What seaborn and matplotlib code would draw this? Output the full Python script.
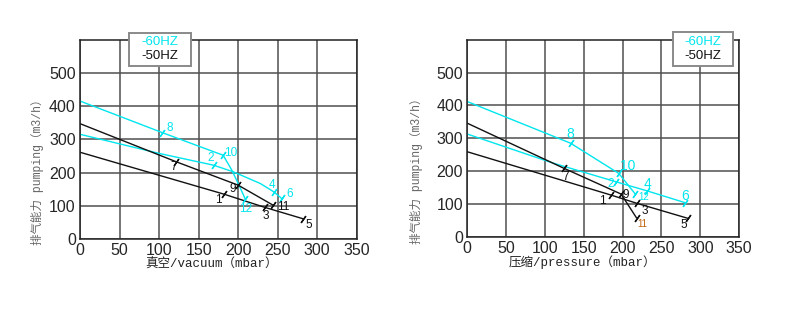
import matplotlib
matplotlib.use("Agg")
import matplotlib.pyplot as plt
from matplotlib.patches import Rectangle
import seaborn as sns
import pandas as pd

sns.set_theme(style="white")
plt.rcParams["font.family"] = ["Liberation Sans", "Noto Sans CJK SC"]

CYAN = "#00e6ee"
BLACK = "#111111"

# ---- vacuum side: curve vertices (mbar, m3/h) ----
vac_60a_x = [0, 104, 181, 192, 202, 209]
vac_60a_y = [415, 320, 252, 207, 157, 120]
vac_60b_x = [0, 101, 169, 194, 228, 245, 255]
vac_60b_y = [315, 257, 222, 202, 167, 142, 122]
vac_50a_x = [0, 122, 200, 244]
vac_50a_y = [347, 232, 162, 102]
vac_50b_x = [0, 182, 234, 282]
vac_50b_y = [261, 135, 95, 61]

# numbered operating points on the vacuum side
vac_pt_id = ["8", "10", "12", "2", "4", "6", "7", "9", "11", "1", "3", "5"]
vac_pt_x = [104, 181, 209, 169, 245, 255, 122, 200, 244, 182, 234, 282]
vac_pt_y = [320, 252, 120, 222, 142, 122, 232, 162, 102, 135, 95, 61]
vac_lab_x = [114, 191, 209, 165, 243, 265, 119, 193, 257, 175, 235, 289]
vac_lab_y = [333, 260, 90, 244, 163, 135, 217, 150, 97, 117, 70, 42]

# ---- pressure side: curve vertices (mbar, m3/h) ----
prs_60a_x = [0, 133, 195, 216]
prs_60a_y = [412, 285, 193, 131]
prs_60b_x = [0, 111, 192, 231, 280]
prs_60b_y = [313, 224, 167, 140, 104]
prs_50a_x = [0, 125, 198, 218]
prs_50a_y = [346, 208, 130, 57]
prs_50b_x = [0, 185, 218, 284]
prs_50b_y = [259, 127, 102, 56]

prs_pt_id = ["8", "10", "12", "2", "4", "6", "7", "9", "11", "1", "3", "5"]
prs_pt_x = [133, 195, 216, 192, 231, 280, 125, 198, 218, 185, 218, 284]
prs_pt_y = [285, 193, 131, 167, 140, 104, 208, 130, 57, 127, 102, 56]
prs_lab_x = [133, 207, 227, 185, 232, 280, 127, 204, 225, 174, 228, 279]
prs_lab_y = [312, 214, 122, 160, 161, 125, 183, 128, 39, 110, 77, 36]

x_ticks = [0, 50, 100, 150, 200, 250, 300, 350]
y_ticks = [0, 100, 200, 300, 400, 500]
legend_labels = ["-60HZ", "-50HZ"]
legend_colors = [CYAN, BLACK]

LABEL_FONT = ["Liberation Mono", "Noto Sans CJK SC"]


def point_color(pid):
    return CYAN if int(pid) % 2 == 0 else BLACK


def draw_panel(ax, curves, pt_id, pt_x, pt_y, lab_x, lab_y, xlabel,
               label_x, ylabel_x, legend_box, big_ids=(), small_ids=(),
               special=None):
    for xs, ys, col in curves:
        df = pd.DataFrame({"x": xs, "y": ys})
        sns.lineplot(data=df, x="x", y="y", ax=ax, color=col, lw=1.0,
                     sort=False, estimator=None)
    for pid, px, py, lx, ly in zip(pt_id, pt_x, pt_y, lab_x, lab_y):
        col = point_color(pid)
        ax.plot([px], [py], marker=(2, 2, -35), ms=6, mew=1.0, color=col,
                ls="none")
        size = 8.5
        if pid in big_ids:
            size = 10
        if pid in small_ids:
            size = 7
        tcol = col
        if special and pid in special:
            tcol = special[pid]
        ax.text(lx, ly, pid, color=tcol, fontsize=size, ha="center",
                va="center")

    ax.set_xlim(0, 350)
    ax.set_ylim(0, 600)
    ax.set_xticks(x_ticks)
    ax.set_yticks(y_ticks)
    ax.set_xticklabels([str(v) for v in x_ticks], fontsize=11.5)
    ax.set_yticklabels([str(v) for v in y_ticks], fontsize=11.5)
    ax.tick_params(length=0, pad=3)
    ax.grid(True, color="#505050", lw=1.1)
    for sp in ax.spines.values():
        sp.set_visible(True)
        sp.set_color("#222222")
        sp.set_linewidth(1.1)
    ax.set_xlabel("")
    ax.set_ylabel("")

    ax.text(label_x, -0.13, xlabel, transform=ax.transAxes, ha="center",
            va="center", fontsize=9, color="#222222", family=LABEL_FONT)
    ax.text(ylabel_x, 0.35, "排气能力 pumping（m3/h）", transform=ax.transAxes,
            rotation=90, ha="center", va="center", fontsize=8.3,
            color="#666666", family=LABEL_FONT)

    # legend box with coloured entries
    bx0, by0, bx1, by1 = legend_box
    ax.add_patch(Rectangle((bx0, by0), bx1 - bx0, by1 - by0,
                           transform=ax.transAxes, facecolor="white",
                           edgecolor="#8a8a8a", lw=1.4, clip_on=False,
                           zorder=10))
    cx = (bx0 + bx1) / 2
    h = by1 - by0
    for i, (lab, col) in enumerate(zip(legend_labels, legend_colors)):
        ax.text(cx, by1 - h * (0.29 + 0.41 * i), lab, transform=ax.transAxes,
                ha="center", va="center", fontsize=9.5, color=col,
                zorder=11, clip_on=False)


fig = plt.figure(figsize=(8.0, 3.32), dpi=100)
ax1 = fig.add_axes([0.100, 0.280, 0.346, 0.601])
ax2 = fig.add_axes([0.584, 0.287, 0.340, 0.593])

draw_panel(ax1,
           [(vac_60a_x, vac_60a_y, CYAN), (vac_60b_x, vac_60b_y, CYAN),
            (vac_50a_x, vac_50a_y, BLACK), (vac_50b_x, vac_50b_y, BLACK)],
           vac_pt_id, vac_pt_x, vac_pt_y, vac_lab_x, vac_lab_y,
           "真空/vacuum（mbar）", 0.475, -0.155,
           (0.177, 0.865, 0.401, 1.035))

draw_panel(ax2,
           [(prs_60a_x, prs_60a_y, CYAN), (prs_60b_x, prs_60b_y, CYAN),
            (prs_50a_x, prs_50a_y, BLACK), (prs_50b_x, prs_50b_y, BLACK)],
           prs_pt_id, prs_pt_x, prs_pt_y, prs_lab_x, prs_lab_y,
           "压缩/pressure（mbar）", 0.425, -0.187,
           (0.757, 0.868, 0.978, 1.040),
           big_ids=("8", "10", "4", "6"), small_ids=("11", "12"),
           special={"11": "#c0600a"})

fig.savefig("out.png", dpi=100, facecolor="white")
